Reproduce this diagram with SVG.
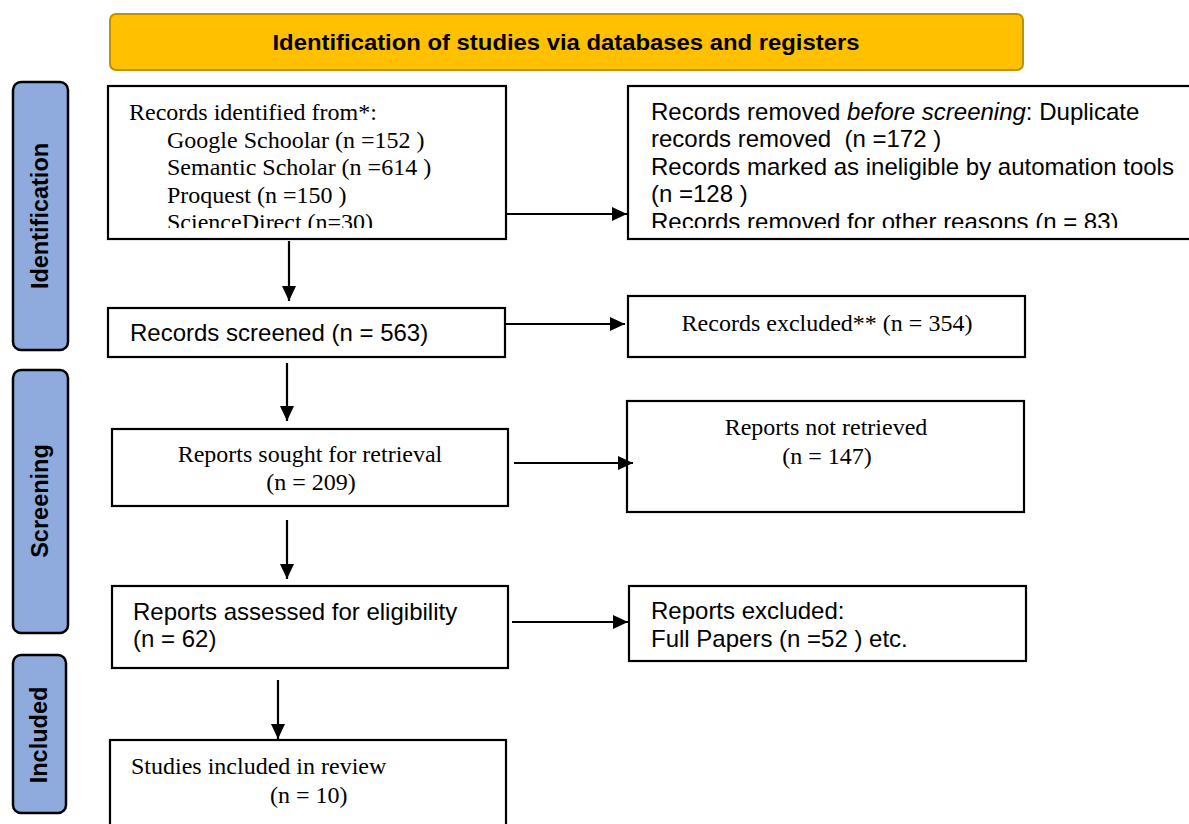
<svg xmlns="http://www.w3.org/2000/svg" width="1189" height="824" viewBox="0 0 1189 824">
<style>
.box{fill:#fff;stroke:#000;stroke-width:2.2}
.side{fill:#8FAADC;stroke:#000;stroke-width:2.5}
.ban{fill:#FFC000;stroke:#BF9000;stroke-width:2}
.a{font-family:"Liberation Sans",Arial,sans-serif;font-size:24px;fill:#000}
.t{font-family:"Liberation Serif","Times New Roman",serif;font-size:24px;fill:#000}
.b{font-family:"Liberation Sans",Arial,sans-serif;font-size:23.5px;font-weight:bold;fill:#000}
.c{stroke:#000;stroke-width:2.2;fill:none;marker-end:url(#ah)}
</style>
<defs>
<marker id="ah" markerUnits="userSpaceOnUse" markerWidth="16" markerHeight="14" refX="15" refY="7" orient="auto">
<path d="M0,0 L15,7 L0,14 Z" fill="#000"/>
</marker>
<clipPath id="c1"><rect x="108" y="86" width="398" height="142"/></clipPath>
<clipPath id="c2"><rect x="628" y="86" width="561" height="142"/></clipPath>
</defs>
<rect width="1189" height="824" fill="#fff"/>
<g id="banner">
<rect class="ban" x="110" y="14" width="913" height="56" rx="6"/>
<text class="b" x="566" y="50" text-anchor="middle" style="font-size:22.5px" textLength="587" lengthAdjust="spacingAndGlyphs">Identification of studies via databases and registers</text>
</g>
<g id="side-identification">
<rect class="side" x="13" y="82" width="55" height="268" rx="8"/>
<text class="b" transform="translate(48,216) rotate(-90)" text-anchor="middle">Identification</text>
</g>
<g id="side-screening">
<rect class="side" x="13" y="370" width="55" height="263" rx="8"/>
<text class="b" transform="translate(48,501) rotate(-90)" text-anchor="middle">Screening</text>
</g>
<g id="side-included">
<rect class="side" x="13" y="655" width="53" height="158" rx="8"/>
<text class="b" transform="translate(47,735) rotate(-90)" text-anchor="middle">Included</text>
</g>
<g id="records-identified">
<rect class="box" x="108" y="86" width="398" height="153"/>
<g clip-path="url(#c1)">
<text class="t" x="129" y="120">Records identified from*:</text>
<text class="t" x="167" y="147.5">Google Schoolar (n =152 )</text>
<text class="t" x="167" y="175">Semantic Scholar (n =614 )</text>
<text class="t" x="167" y="202.5">Proquest (n =150 )</text>
<text class="t" x="167" y="230">ScienceDirect (n=30)</text>
</g>
</g>
<g id="records-removed">
<rect class="box" x="628" y="86" width="580" height="153"/>
<g clip-path="url(#c2)">
<text class="a" x="651" y="120">Records removed <tspan font-style="italic">before screening</tspan>: Duplicate</text>
<text class="a" x="651" y="147" xml:space="preserve">records removed  (n =172 )</text>
<text class="a" x="651" y="175">Records marked as ineligible by automation tools</text>
<text class="a" x="651" y="202">(n =128 )</text>
<text class="a" x="651" y="230">Records removed for other reasons (n = 83)</text>
</g>
</g>
<g id="records-screened">
<rect class="box" x="108" y="308" width="397" height="49"/>
<text class="a" x="130" y="341">Records screened (n = 563)</text>
</g>
<g id="records-excluded">
<rect class="box" x="628" y="296" width="397" height="61"/>
<text class="t" x="827" y="331" text-anchor="middle">Records excluded** (n = 354)</text>
</g>
<g id="reports-sought">
<rect class="box" x="112" y="429" width="396" height="77"/>
<text class="t" x="310" y="462" text-anchor="middle">Reports sought for retrieval</text>
<text class="t" x="311" y="490" text-anchor="middle">(n = 209)</text>
</g>
<g id="reports-not-retrieved">
<rect class="box" x="627" y="401" width="397" height="111"/>
<text class="t" x="826" y="435" text-anchor="middle">Reports not retrieved</text>
<text class="t" x="827" y="464" text-anchor="middle">(n = 147)</text>
</g>
<g id="reports-assessed">
<rect class="box" x="112" y="586" width="396" height="82"/>
<text class="a" x="133" y="620">Reports assessed for eligibility</text>
<text class="a" x="133" y="647">(n = 62)</text>
</g>
<g id="reports-excluded">
<rect class="box" x="629" y="586" width="397" height="75"/>
<text class="a" x="651" y="619">Reports excluded:</text>
<text class="a" x="651" y="647">Full Papers (n =52 ) etc.</text>
</g>
<g id="studies-included">
<rect class="box" x="110" y="740" width="396" height="100"/>
<text class="t" x="131" y="774">Studies included in review</text>
<text class="t" x="270" y="803">(n = 10)</text>
</g>
<g id="connectors">
<line class="c" x1="506" y1="214" x2="627" y2="214"/>
<line class="c" x1="289" y1="241" x2="289" y2="301"/>
<line class="c" x1="506" y1="324" x2="625" y2="324"/>
<line class="c" x1="287" y1="363" x2="287" y2="421"/>
<line class="c" x1="514" y1="463" x2="633" y2="463"/>
<line class="c" x1="287" y1="520" x2="287" y2="579"/>
<line class="c" x1="512" y1="622" x2="628" y2="622"/>
<line class="c" x1="278" y1="680" x2="278" y2="739"/>
</g>
</svg>
